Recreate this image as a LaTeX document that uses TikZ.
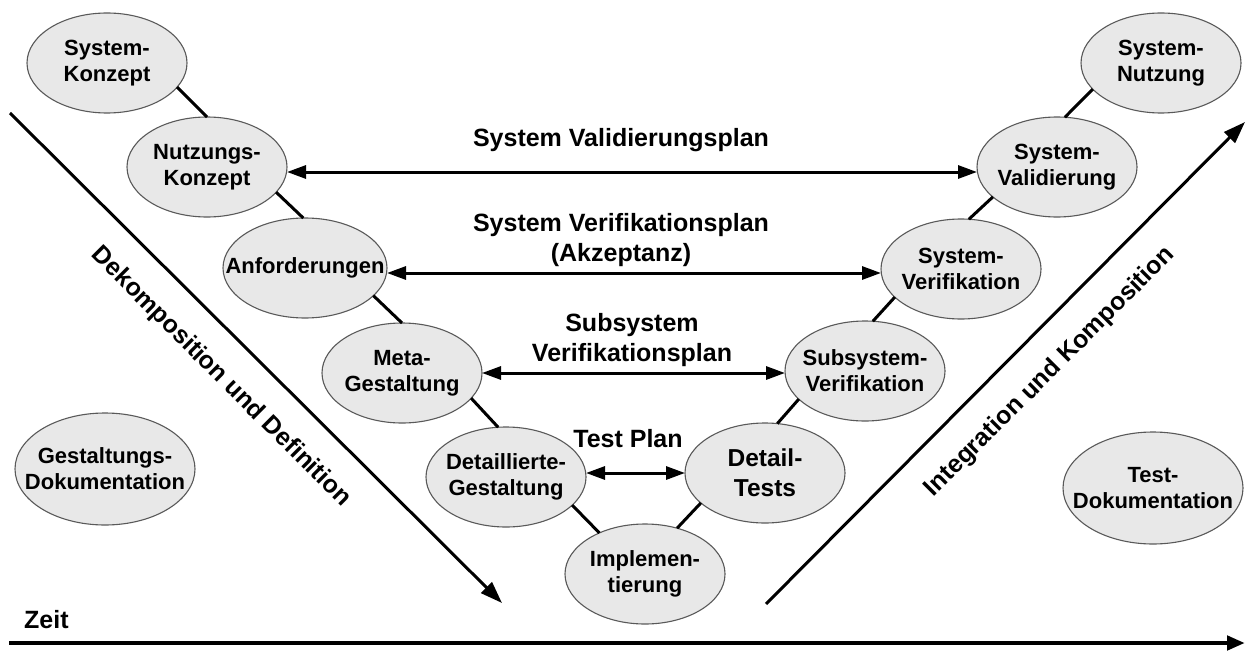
\documentclass[tikz,border=0pt]{standalone}
\usepackage{fontspec}
\setmainfont{Liberation Sans}
\usetikzlibrary{shapes.geometric,arrows.meta}

\begin{document}
\begin{tikzpicture}[x=1pt,y=-1pt,
  phase/.style={ellipse, draw=black!65, line width=1.1pt, fill=black!9,
    minimum width=160pt, minimum height=100pt,
    inner xsep=-45pt, inner ysep=-25pt, outer sep=0pt, align=center,
    font=\fontsize{22}{26}\selectfont\bfseries},
  doc/.style={phase, minimum width=180pt, minimum height=112pt},
  link/.style={line width=3pt},
  plan/.style={line width=3pt,
    {Triangle[length=19pt,width=13pt]}-{Triangle[length=19pt,width=13pt]}},
  plantext/.style={align=center, inner sep=0pt,
    font=\fontsize{25}{30}\selectfont\bfseries},
  flow/.style={line width=3pt, -{Triangle[length=22pt,width=15pt]}},
]
\useasboundingbox (0,0) rectangle (1246,650);

% phases of the V
\node[phase] (sk) at (107,63) {System-\\Konzept};
\node[phase] (nk) at (207,167) {Nutzungs-\\Konzept};
\node[phase, minimum width=164pt] (anf) at (305,268) {Anforderungen};
\node[phase] (meta) at (402,373) {Meta-\\Gestaltung};
\node[phase] (det) at (506,477) {Detaillierte-\\Gestaltung};
\node[phase] (impl) at (645,574) {Implemen-\\tierung};
\node[phase, font=\fontsize{24.5}{30}\selectfont\bfseries] (dt) at (765,473) {Detail-\\Tests};
\node[phase] (ssv) at (865,371) {Subsystem-\\Verifikation};
\node[phase] (sv) at (961,269) {System-\\Verifikation};
\node[phase] (sval) at (1057,167) {System-\\Validierung};
\node[phase] (sn) at (1161,63) {System-\\Nutzung};

% documentation
\node[doc] (gd) at (105,469) {Gestaltungs-\\Dokumentation};
\node[doc] (td) at (1153,488) {Test-\\Dokumentation};

% links along the V
\draw[link] (sk.-19) -- (nk.north);
\draw[link] (nk.-20) -- (anf.92);
\draw[link] (anf.-22) -- (meta.north);
\draw[link] (meta.-20) -- (det.99);
\draw[link] (det.-23) -- (impl.138);
\draw[link] (impl.55) -- (dt.205);
\draw[link] (dt.76) -- (ssv.203);
\draw[link] (ssv.81) -- (sv.203);
\draw[link] (sv.81) -- (sval.205);
\draw[link] (sval.81) -- (sn.201);

% plans between both sides
\draw[plan] ([yshift=-5pt]nk.east) -- ([yshift=-5pt]sval.west);
\draw[plan] ([yshift=-5pt]anf.east) -- ([yshift=-4pt]sv.west);
\draw[plan] (meta.east) -- ([yshift=-2pt]ssv.west);
\draw[plan] ([yshift=4pt]det.east) -- (dt.west);

\node[plantext, anchor=base] (lval) at (621,146) {System Validierungsplan};
\node[plantext] (lver) at (621,240.5) {System Verifikationsplan\\(Akzeptanz)};
\node[plantext] (lsub) at (632,340) {Subsystem\\Verifikationsplan};
\node[plantext, anchor=base] (ltest) at (628,447) {Test Plan};

% decomposition and integration
\coordinate (dstart) at (10,113);
\coordinate (dend) at (502,603);
\draw[flow] (dstart) -- (dend);
\node[plantext, rotate=-45] (ldek) at (221,377) {Dekomposition und Definition};

\coordinate (istart) at (766,604);
\coordinate (iend) at (1245,122);
\draw[flow] (istart) -- (iend);
\node[plantext, rotate=45] (lint) at (1050,372) {Integration und Komposition};

% time axis
\coordinate (t0) at (9,643);
\coordinate (t1) at (1245,643);
\draw[line width=4.5pt, -{Triangle[length=18pt,width=14pt]}] (t0) -- (t1);
\node[plantext, anchor=base west] (zeit) at (24,628) {Zeit};
\end{tikzpicture}
\end{document}
